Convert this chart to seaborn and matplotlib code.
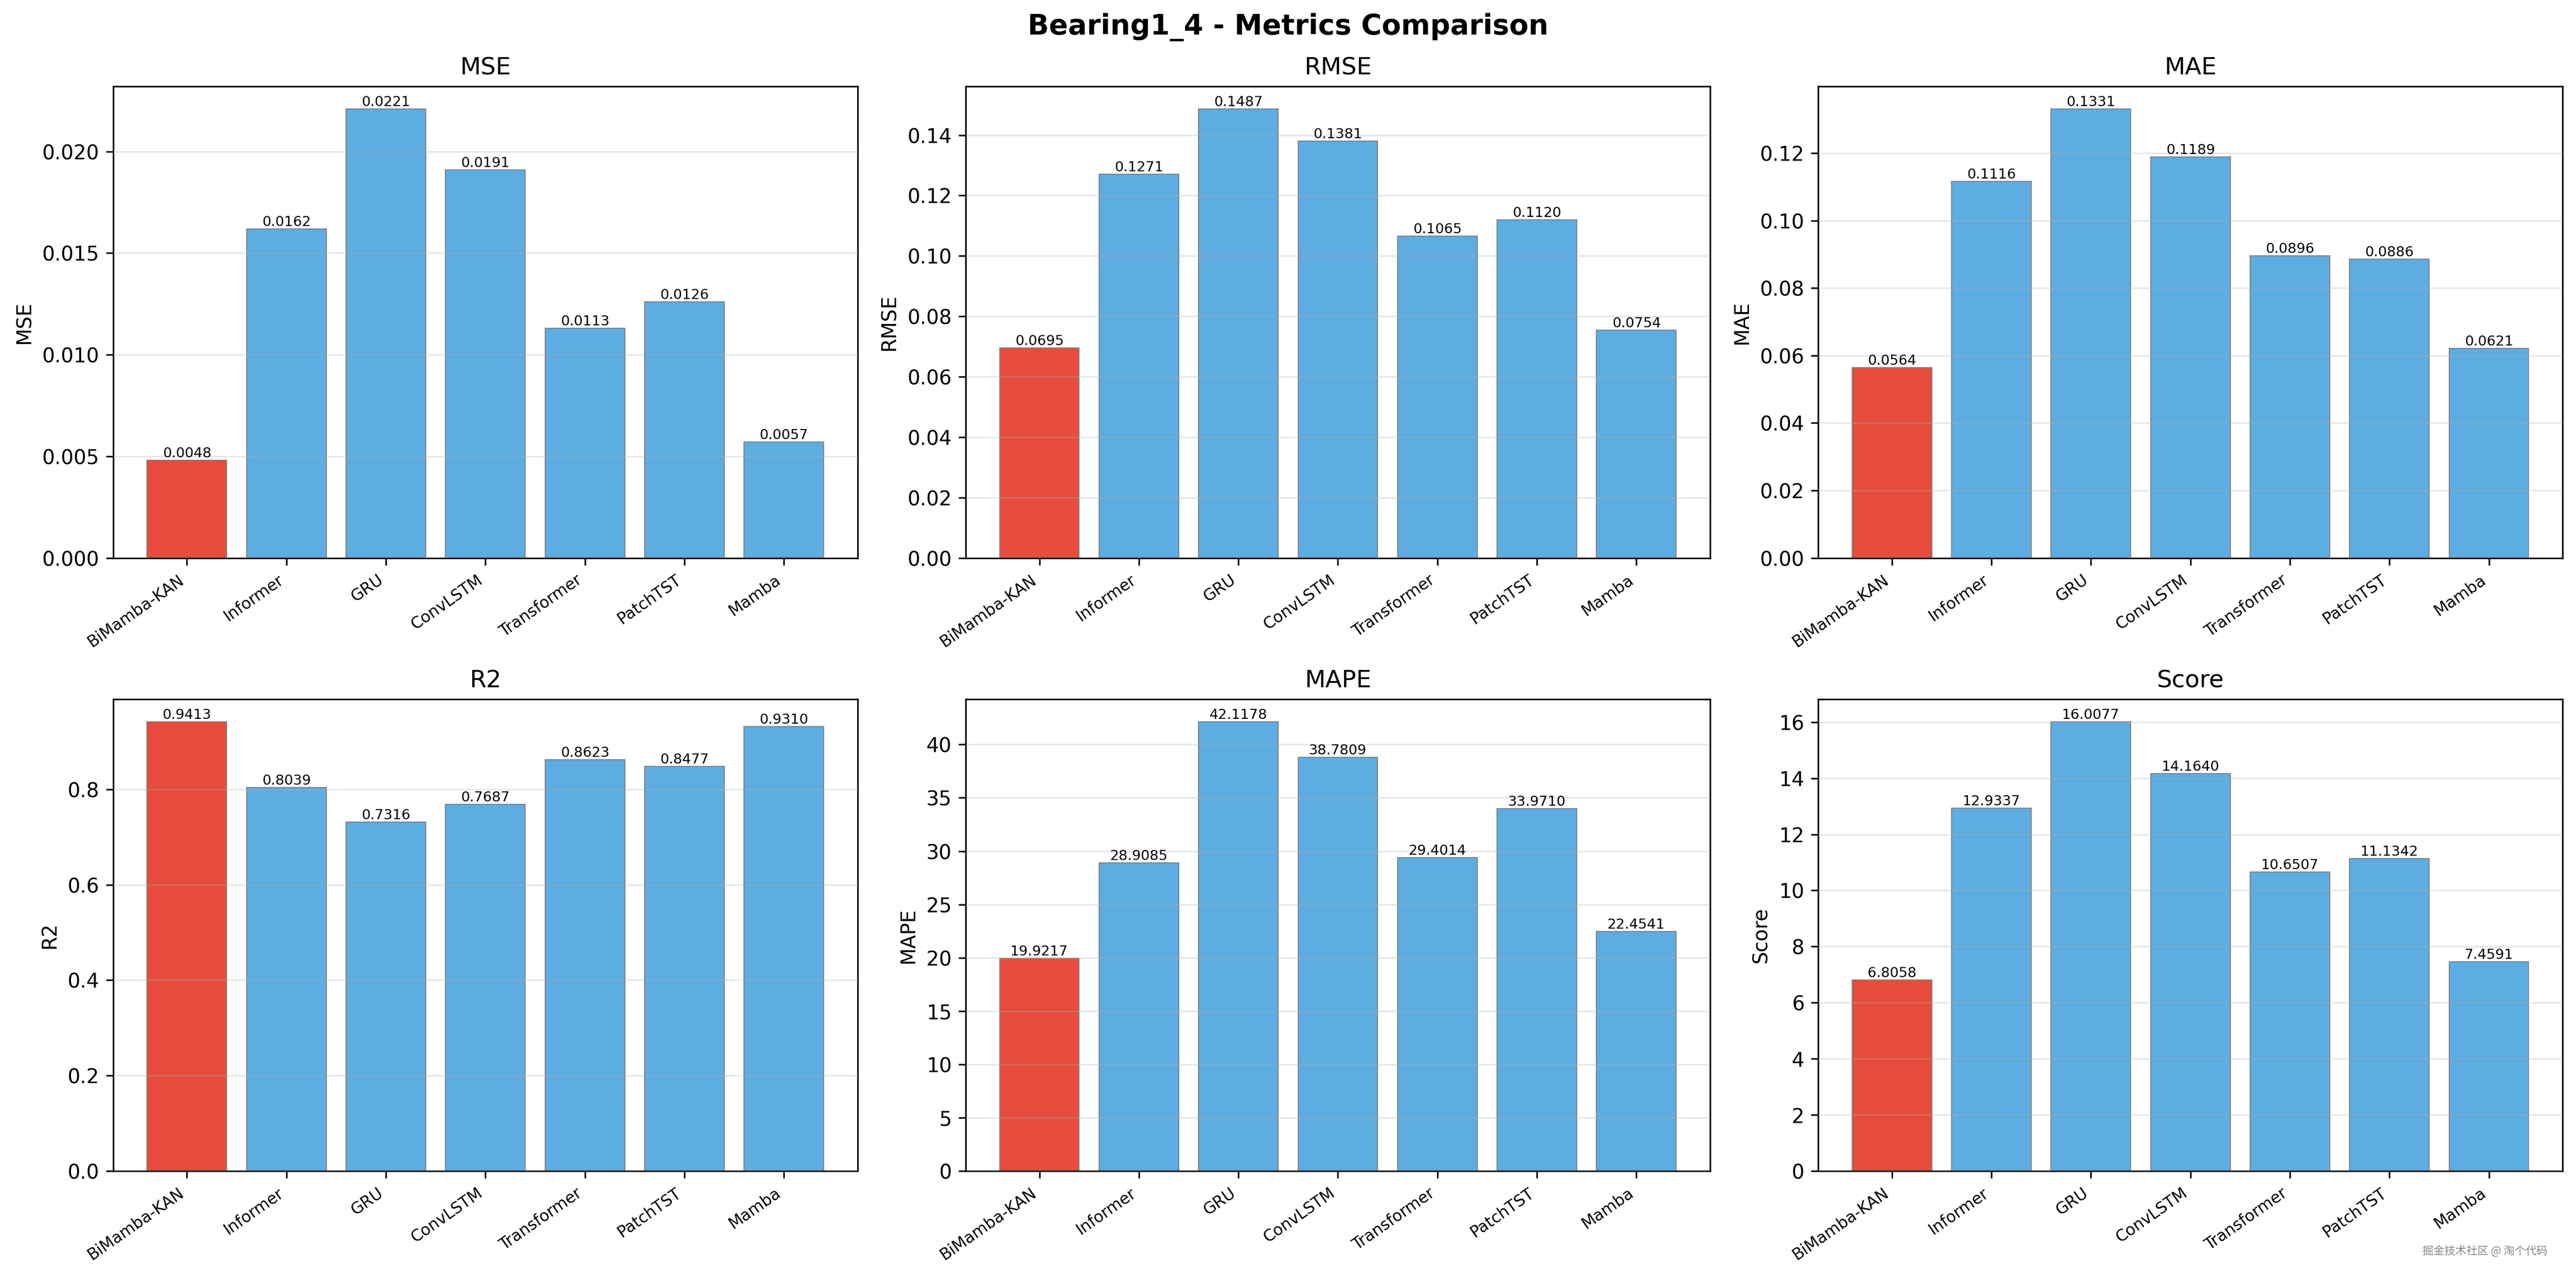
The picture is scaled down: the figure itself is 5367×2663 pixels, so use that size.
import matplotlib
matplotlib.use("Agg")
import matplotlib.pyplot as plt
import seaborn as sns
import pandas as pd

models = ["BiMamba-KAN", "Informer", "GRU", "ConvLSTM", "Transformer", "PatchTST", "Mamba"]
metric_names = ["MSE", "RMSE", "MAE", "R2", "MAPE", "Score"]
mse = [0.0048, 0.0162, 0.0221, 0.0191, 0.0113, 0.0126, 0.0057]
rmse = [0.0695, 0.1271, 0.1487, 0.1381, 0.1065, 0.1120, 0.0754]
mae = [0.0564, 0.1116, 0.1331, 0.1189, 0.0896, 0.0886, 0.0621]
r2 = [0.9413, 0.8039, 0.7316, 0.7687, 0.8623, 0.8477, 0.9310]
mape = [19.9217, 28.9085, 42.1178, 38.7809, 29.4014, 33.9710, 22.4541]
score = [6.8058, 12.9337, 16.0077, 14.1640, 10.6507, 11.1342, 7.4591]
all_values = [mse, rmse, mae, r2, mape, score]

highlight = "#E74C3C"
base = "#5DADE2"
palette = {m: (highlight if i == 0 else base) for i, m in enumerate(models)}

fig, axes = plt.subplots(2, 3, figsize=(5367 / 300, 2663 / 300), dpi=300)
fig.subplots_adjust(left=0.04397, right=0.99478, top=0.9324, bottom=0.0837,
                    wspace=0.1454, hspace=0.300)

for ax, name, vals in zip(axes.flat, metric_names, all_values):
    df = pd.DataFrame({"model": models, "value": vals})
    sns.barplot(data=df, x="model", y="value", hue="model", palette=palette,
                legend=False, ax=ax, edgecolor="gray", linewidth=0.5,
                saturation=1, width=0.8)
    ax.set_xlim(-0.74, len(models) - 1 + 0.74)
    ax.set_title(name, fontsize=12)
    ax.set_ylabel(name, fontsize=10)
    ax.set_xlabel("")
    ax.grid(axis="y", alpha=0.3)
    ax.set_axisbelow(False)
    ax.tick_params(axis="x", labelsize=8)
    for lbl in ax.get_xticklabels():
        lbl.set_rotation(35)
        lbl.set_ha("right")
    for i, v in enumerate(vals):
        ax.text(i, v, f"{v:.4f}", ha="center", va="bottom", fontsize=7)

fig.suptitle("Bearing1_4 - Metrics Comparison", fontsize=14, fontweight="bold", y=0.99)
fig.text(0.989, 0.021, "掘金技术社区 @ 淘个代码", fontsize=5.5, color="#888888",
         ha="right", va="center", family=["Noto Sans CJK SC", "DejaVu Sans"])

fig.savefig("out.png", dpi=300)
